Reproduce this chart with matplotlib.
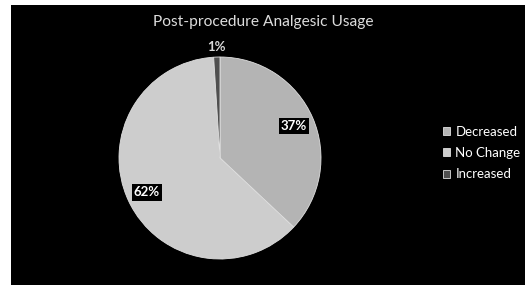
import matplotlib.pyplot as plt
import numpy as np

labels = ['Decreased', 'No Change', 'Increased']
values = [37, 62, 1]
colors = ['#b4b4b4', '#cdcdcd', '#4f4f4f']

plt.rcParams['font.family'] = ['Lato', 'DejaVu Sans']

fig = plt.figure(figsize=(5.25, 2.85), dpi=100)
fig.patch.set_facecolor('white')

# black panel (white strip on left and top)
bg = fig.add_axes([11 / 525, 0, 1 - 11 / 525, 280 / 285])
bg.set_facecolor('black')
bg.set_xticks([])
bg.set_yticks([])
for s in bg.spines.values():
    s.set_visible(False)

fig.text(263 / 525, 1 - 22 / 285, 'Post-procedure Analgesic Usage', color='#dcdcdc',
         fontsize=11.2, ha='center', va='center')

r = 101
ax = fig.add_axes([(220 - r) / 525, (127 - r) / 285, 2 * r / 525, 2 * r / 285])
wedges, texts, autotexts = ax.pie(values, colors=colors, startangle=90, counterclock=False,
                                  autopct='%1.0f%%', pctdistance=0.8,
                                  wedgeprops=dict(edgecolor='#e0e0e0', linewidth=0.6),
                                  textprops=dict(color='white', fontsize=9.5, fontweight='bold'))
ax.set_xlim(-1, 1)
ax.set_ylim(-1, 1)
ax.axis('off')

for t in autotexts[:2]:
    t.set_bbox(dict(facecolor='black', edgecolor='none', pad=1.5))

# small slice label outside the pie
w = wedges[2]
ang = np.deg2rad((w.theta1 + w.theta2) / 2)
autotexts[2].set_position((1.1 * np.cos(ang), 1.1 * np.sin(ang)))
autotexts[2].set_color('#d9d9d9')
autotexts[2].set_clip_on(False)

leg = fig.legend(wedges, labels, loc='center left', bbox_to_anchor=(431 / 525, 1 - 153 / 285),
                 frameon=False, fontsize=9.5, labelcolor='white', handlelength=0.55,
                 handleheight=0.55, handletextpad=0.4, labelspacing=0.72)

fig.savefig('out.png', dpi=100, facecolor='white')
